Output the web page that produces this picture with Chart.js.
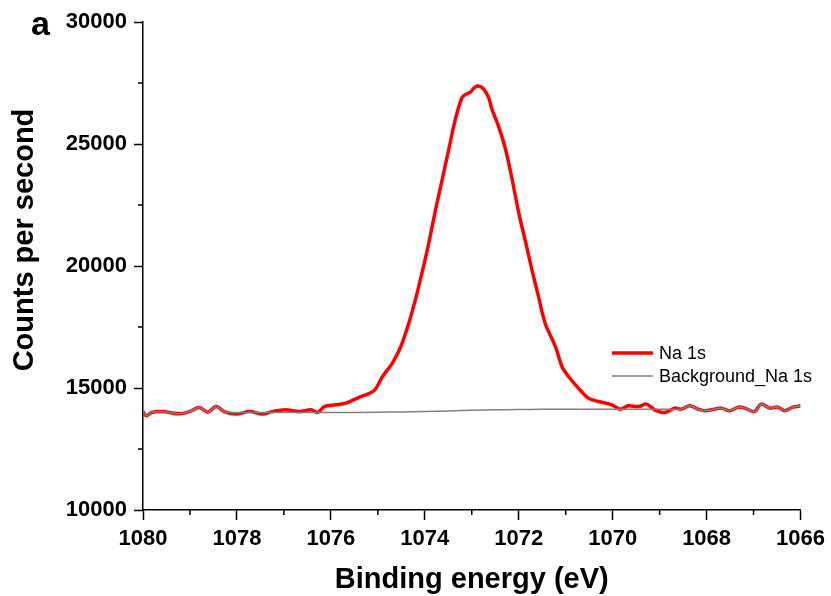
<!DOCTYPE html>
<html>
<head>
<meta charset="utf-8">
<script src="https://cdn.jsdelivr.net/npm/chart.js@4.4.1/dist/chart.umd.min.js"></script>
<style>
  html, body { margin: 0; padding: 0; background: #fff; }
  #wrap { width: 831px; height: 596px; position: relative; }
</style>
</head>
<body>
<div id="wrap"><canvas id="myChart"></canvas></div>
<script>
// Na 1s spectrum
const energy = [
  1080.00, 1079.93, 1079.82, 1079.58, 1079.22, 1079.01, 1078.80, 1078.62, 1078.44, 1078.27,
  1078.02, 1077.73, 1077.45, 1077.24, 1076.96, 1076.67, 1076.42, 1076.28, 1076.14, 1075.89,
  1075.68, 1075.40, 1075.18, 1075.06, 1074.90, 1074.69, 1074.51, 1074.34, 1074.20, 1074.06,
  1073.93, 1073.77, 1073.63, 1073.49, 1073.35, 1073.21, 1073.13, 1073.03, 1072.95, 1072.87,
  1072.75, 1072.64, 1072.57, 1072.43, 1072.28, 1072.14, 1072.00, 1071.85, 1071.72, 1071.58,
  1071.44, 1071.22, 1071.08, 1070.94, 1070.73, 1070.52, 1070.30, 1070.02, 1069.84, 1069.67,
  1069.45, 1069.28, 1069.10, 1068.89, 1068.68, 1068.54, 1068.36, 1068.18, 1068.04, 1067.83,
  1067.69, 1067.51, 1067.33, 1067.19, 1066.98, 1066.84, 1066.66, 1066.48, 1066.34, 1066.16,
  1066.00
];
const na1s = [
  14035, 13860, 13995, 14035, 13940, 14035, 14200, 14010, 14240, 14035,
  13930, 14035, 13930, 14035, 14105, 14035, 14105, 13995, 14240, 14310,
  14380, 14620, 14780, 14930, 15470, 16020, 16700, 17660, 18620, 19715,
  20807, 22313, 23545, 24776, 26007, 26897, 27033, 27127, 27300, 27373,
  27267, 26897, 26417, 25732, 24776, 23545, 22178, 20950, 19851, 18755,
  17663, 16703, 15882, 15472, 14996, 14585, 14446, 14310, 14134, 14270,
  14240, 14340, 14105, 13995, 14175, 14134, 14270, 14134, 14065, 14134,
  14175, 14065, 14215, 14175, 14035, 14340, 14175, 14215, 14065, 14215,
  14270
];
const bgEnergy = [
  1080.00, 1079.93, 1079.82, 1079.58, 1079.22, 1079.01, 1078.80, 1078.62, 1078.44, 1078.27,
  1078.10, 1077.00, 1076.00, 1075.00, 1074.50, 1074.00, 1073.50, 1073.00, 1072.50, 1072.00,
  1071.50, 1071.00, 1070.00, 1069.00, 1068.54, 1068.36, 1068.18, 1068.04, 1067.83, 1067.69,
  1067.51, 1067.33, 1067.19, 1066.98, 1066.84, 1066.66, 1066.48, 1066.34, 1066.16, 1066.00
];
const bgCounts = [
  14035, 13860, 13995, 14035, 13940, 14035, 14200, 14010, 14240, 14035,
  13995, 13995, 13995, 14005, 14020, 14040, 14062, 14085, 14105, 14118,
  14127, 14132, 14134, 14134, 14134, 14270, 14134, 14065, 14134, 14175,
  14065, 14215, 14175, 14035, 14340, 14175, 14215, 14065, 14215, 14270
];
const seriesNames = ['Na 1s', 'Background_Na 1s'];
const yTicks = [10000, 15000, 20000, 25000, 30000];
const xTicks = [1080, 1078, 1076, 1074, 1072, 1070, 1068, 1066];

const FONT = '"Liberation Sans", Arial, sans-serif';

function pts(xs, ys) {
  return xs.map((x, i) => ({ x: x, y: ys[i] }));
}

// minor ticks, axis titles, panel letter and legend
const extras = {
  id: 'extras',
  afterDraw(chart) {
    const ctx = chart.ctx;
    const xs = chart.scales.x, ys = chart.scales.y;
    const area = chart.chartArea;
    ctx.save();
    ctx.strokeStyle = '#000';
    ctx.lineWidth = 1.5;
    ys.ticks.forEach(t => {
      if (!yTicks.includes(t.value)) {
        const p = ys.getPixelForValue(t.value);
        ctx.beginPath(); ctx.moveTo(area.left - 5, p); ctx.lineTo(area.left, p); ctx.stroke();
      }
    });
    xs.ticks.forEach(t => {
      if (!xTicks.includes(t.value)) {
        const p = xs.getPixelForValue(t.value);
        ctx.beginPath(); ctx.moveTo(p, area.bottom); ctx.lineTo(p, area.bottom + 5); ctx.stroke();
      }
    });

    ctx.fillStyle = '#000';
    ctx.font = 'bold 29px ' + FONT;
    ctx.textAlign = 'center';
    ctx.textBaseline = 'alphabetic';
    ctx.fillText('Binding energy (eV)', (area.left + area.right) / 2, 588);

    ctx.save();
    ctx.translate(33, 240);
    ctx.rotate(-Math.PI / 2);
    ctx.fillText('Counts per second', 0, 0);
    ctx.restore();

    ctx.font = 'bold 34px ' + FONT;
    ctx.textAlign = 'left';
    ctx.fillText('a', 31, 35);

    // legend
    ctx.font = '18px ' + FONT;
    ctx.textBaseline = 'middle';
    chart.data.datasets.forEach((ds, i) => {
      const y = 353 + i * 23;
      ctx.strokeStyle = ds.borderColor;
      ctx.lineWidth = ds.borderWidth;
      ctx.beginPath(); ctx.moveTo(612, y); ctx.lineTo(653, y); ctx.stroke();
      ctx.fillText(ds.label, 659, y + 1);
    });
    ctx.restore();
  }
};

const ctx = document.getElementById('myChart').getContext('2d');
const myChart = new Chart(ctx, {
  type: 'line',
  data: {
    datasets: [{
      label: seriesNames[0],
      data: pts(energy, na1s),
      borderColor: '#ff0000',
      borderWidth: 3.5,
      pointRadius: 0,
      tension: 0.3,
      order: 1
    }, {
      label: seriesNames[1],
      data: pts(bgEnergy, bgCounts),
      borderColor: '#808080',
      borderWidth: 1.5,
      pointRadius: 0,
      tension: 0.3,
      order: 0
    }]
  },
  options: {
    responsive: true,
    maintainAspectRatio: false,
    animation: false,
    layout: { padding: { top: 22, right: 28, bottom: 0, left: 0 } },
    plugins: { legend: { display: false }, tooltip: { enabled: false } },
    scales: {
      x: {
        type: 'linear',
        reverse: true,
        min: 1066,
        max: 1080,
        afterFit: s => { s.height = 86; },
        border: { color: '#000', width: 1.5 },
        grid: {
          drawOnChartArea: false,
          tickLength: 10,
          tickWidth: 1.5,
          tickColor: c => xTicks.includes(c.tick && c.tick.value) ? '#000' : 'rgba(0,0,0,0)'
        },
        ticks: {
          stepSize: 1,
          autoSkip: false,
          maxRotation: 0,
          padding: 6,
          color: '#000',
          font: { family: FONT, size: 22, weight: 'bold' },
          callback: v => xTicks.includes(v) ? String(v) : ''
        }
      },
      y: {
        min: 10000,
        max: 30000,
        afterFit: s => { s.width = 143; },
        border: { color: '#000', width: 1.5 },
        grid: {
          drawOnChartArea: false,
          tickLength: 9,
          tickWidth: 1.5,
          tickColor: c => yTicks.includes(c.tick && c.tick.value) ? '#000' : 'rgba(0,0,0,0)'
        },
        ticks: {
          stepSize: 2500,
          padding: 7,
          color: '#000',
          font: { family: FONT, size: 22, weight: 'bold' },
          callback: v => yTicks.includes(v) ? String(v) : ''
        }
      }
    }
  },
  plugins: [extras]
});
</script>
</body>
</html>
